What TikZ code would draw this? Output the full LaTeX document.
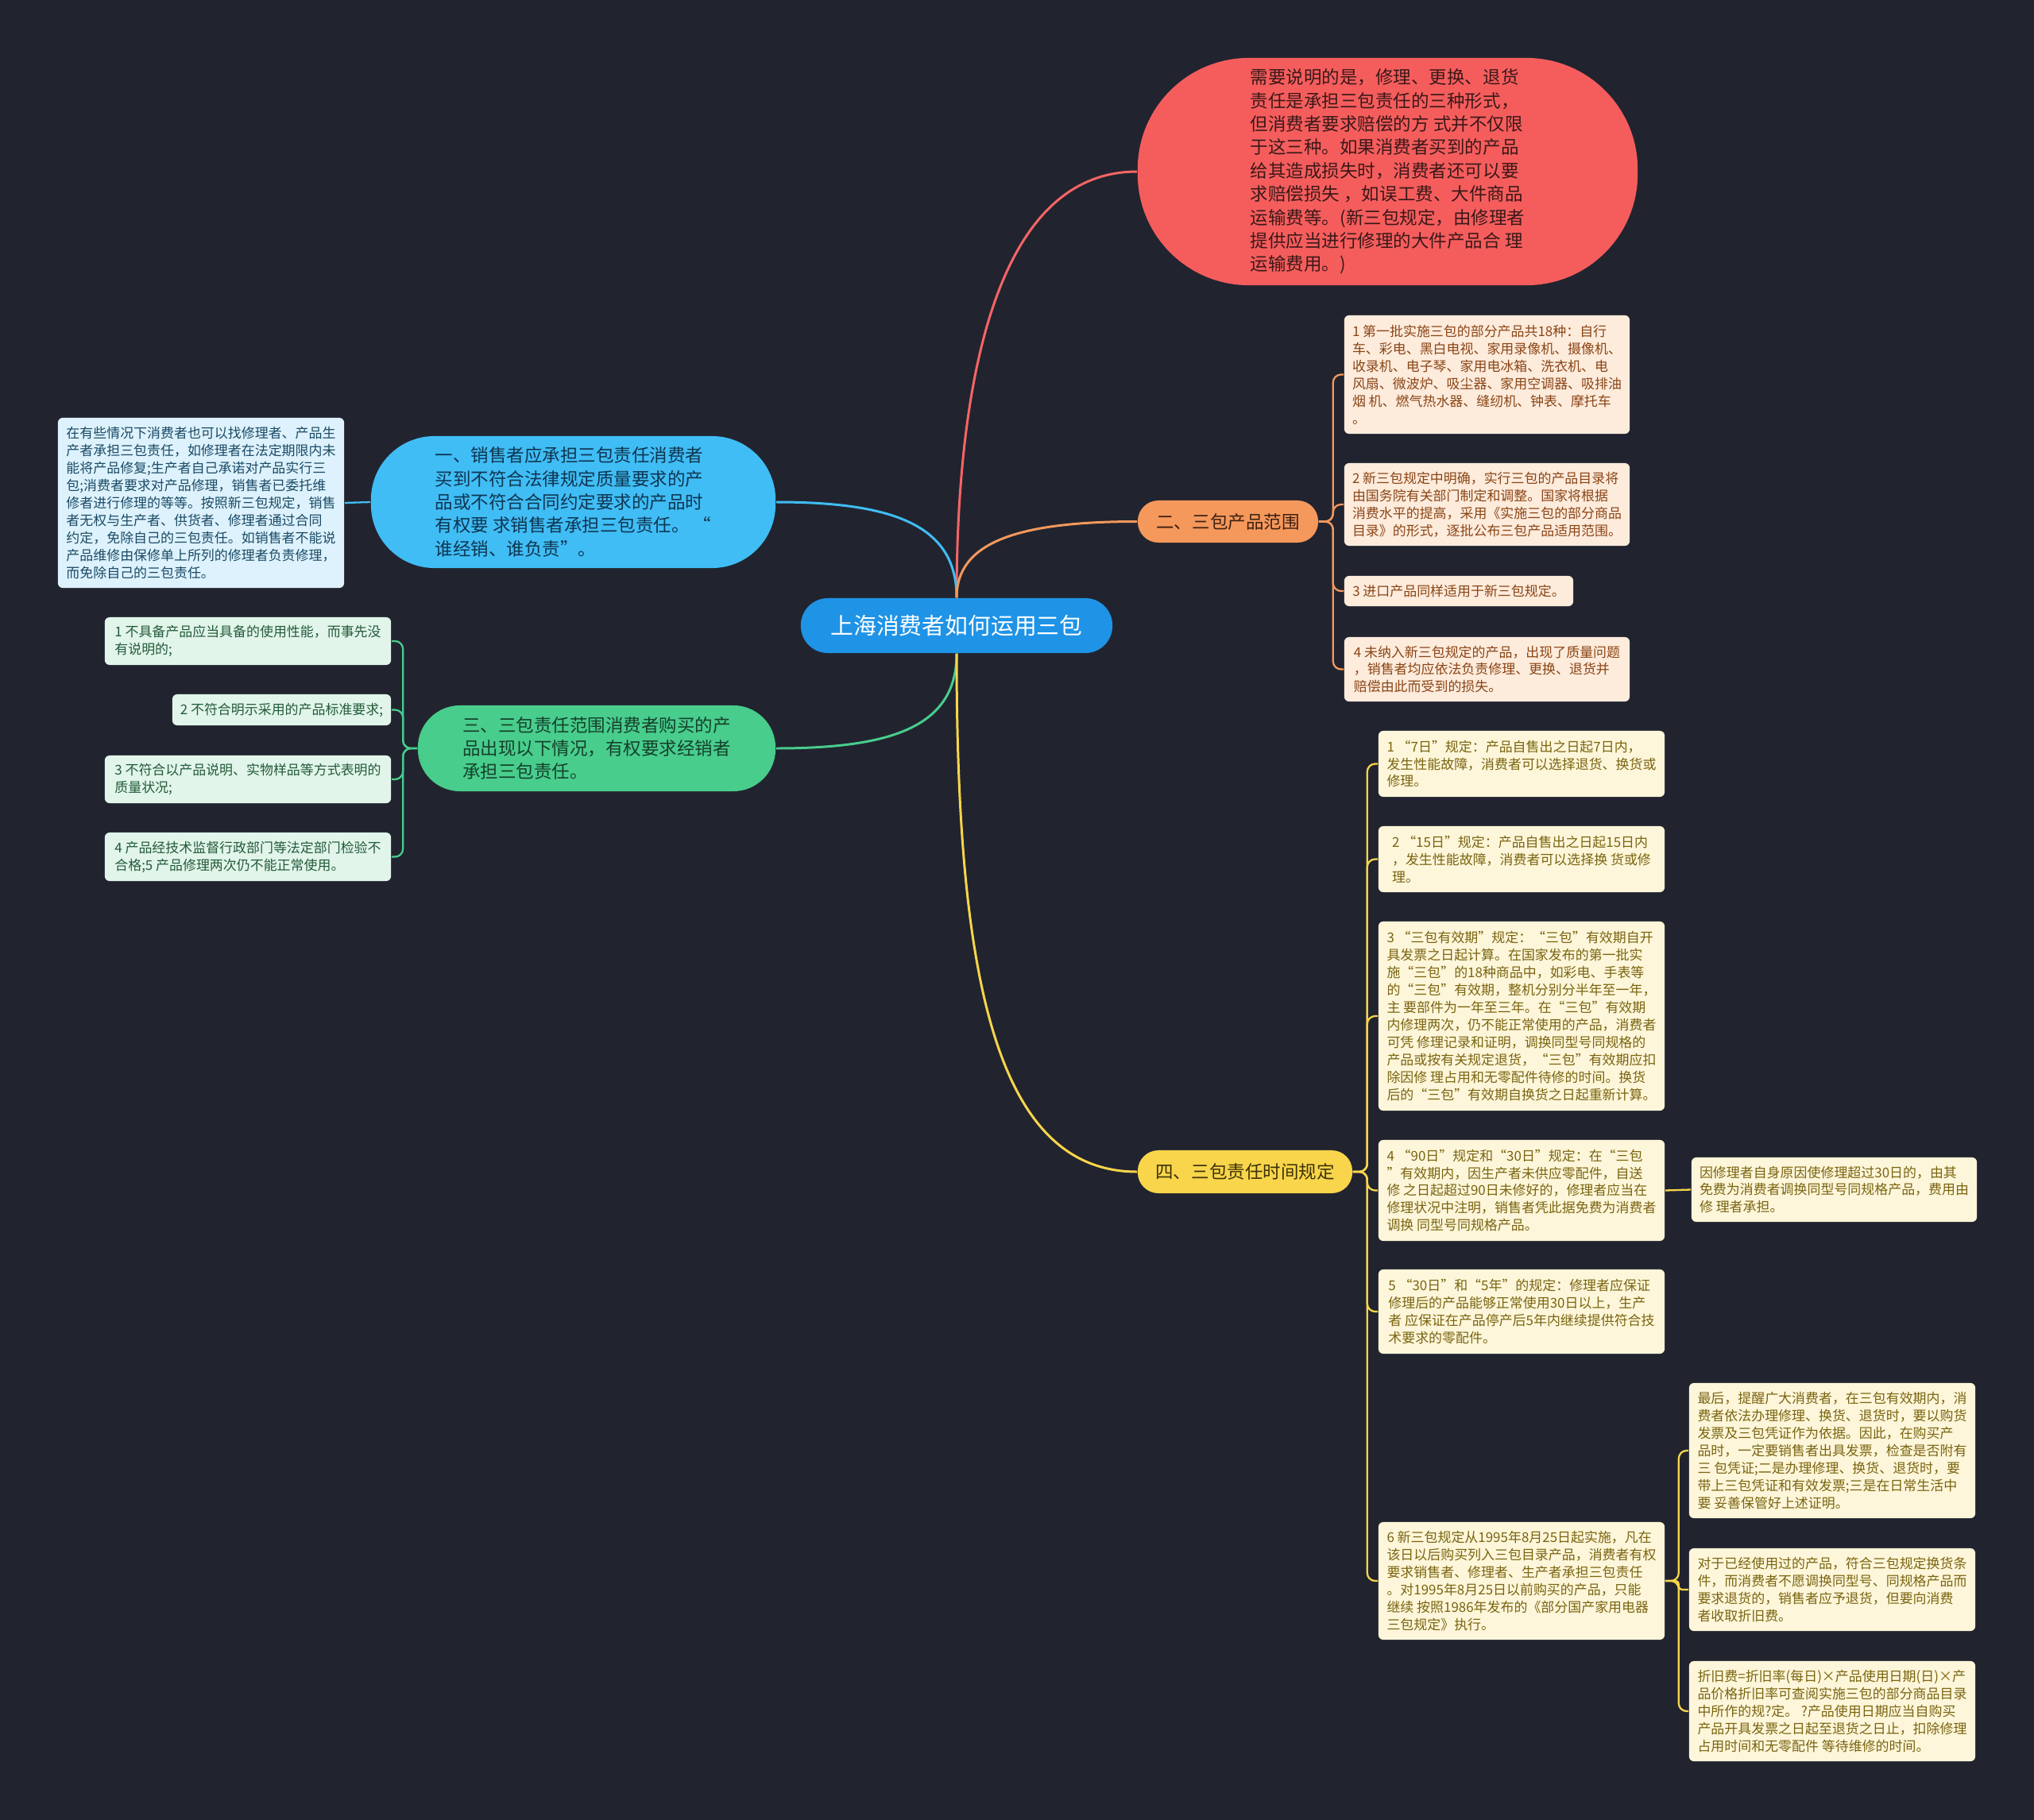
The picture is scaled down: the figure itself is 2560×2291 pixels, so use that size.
\documentclass[tikz,border=0pt]{standalone}
\usepackage{fontspec}
\setmainfont{Noto Sans CJK SC}
\usetikzlibrary{positioning}

\definecolor{bgc}{HTML}{21242F}
\definecolor{hubfill}{HTML}{1F93E6}
\definecolor{redfill}{HTML}{F55D5D}
\definecolor{redtext}{HTML}{3B1818}
\definecolor{bluefill}{HTML}{40BDF5}
\definecolor{bluetext}{HTML}{0F3550}
\definecolor{greenfill}{HTML}{48CD8C}
\definecolor{greentext}{HTML}{15402A}
\definecolor{orangefill}{HTML}{F5985C}
\definecolor{orangetext}{HTML}{3D2010}
\definecolor{yellowfill}{HTML}{F8D54A}
\definecolor{yellowtext}{HTML}{3D3208}
\definecolor{gleaf}{HTML}{E1F5EA}
\definecolor{gleaftext}{HTML}{245A3A}
\definecolor{bleaf}{HTML}{DDF2FC}
\definecolor{bleaftext}{HTML}{1A4A66}
\definecolor{oleaf}{HTML}{FDEBDC}
\definecolor{oleaftext}{HTML}{8A4515}
\definecolor{yleaf}{HTML}{FDF6DA}
\definecolor{yleaftext}{HTML}{7A6410}

\begin{document}
\begin{tikzpicture}[x=0.01cm, y=-0.01cm,
	hub/.style ={fill=hubfill, text=white, rounded corners=0.34cm, minimum width=3.92cm, minimum height=0.69cm, inner sep=0pt, font=\fontsize{8.2}{10}\selectfont},
	topic/.style ={align=left, inner sep=0pt, font=\fontsize{6.4}{8.35}\selectfont},
	leaf/.style ={align=left, inner sep=0pt, rounded corners=0.06cm, minimum width=3.6cm, font=\fontsize{4.82}{6.24}\selectfont},
	gleafbox/.style ={leaf, fill=gleaf, text=gleaftext},
	oleafbox/.style ={leaf, fill=oleaf, text=oleaftext},
	yleafbox/.style ={leaf, fill=yleaf, text=yleaftext},
	link/.style ={line width=0.85pt},
	twig/.style ={line width=0.65pt, rounded corners=0.1cm}]
	\path[use as bounding box, fill=bgc] (0,0) rectangle (2560,2291);

	\node[hub] (hub) at (1204,787.5) {上海消费者如何运用三包};

	\node[topic, fill=redfill, text=redtext, rounded corners=1.4cm, minimum width=6.29cm, minimum height=2.86cm] (remark) at (1746.5,216) {需要说明的是，修理、更换、退货\\责任是承担三包责任的三种形式，\\但消费者要求赔偿的方 式并不仅限\\于这三种。如果消费者买到的产品\\给其造成损失时，消费者还可以要\\求赔偿损失 ，如误工费、大件商品\\运输费等。(新三包规定，由修理者\\提供应当进行修理的大件产品合 理\\运输费用。)};

	\node[topic, fill=bluefill, text=bluetext, rounded corners=0.8cm, minimum width=5.09cm, minimum height=1.66cm] (sell) at (721.5,632) {一、销售者应承担三包责任消费者\\买到不符合法律规定质量要求的产\\品或不符合合同约定要求的产品时\\有权要 求销售者承担三包责任。 “\\谁经销、谁负责”。};
	\node[leaf, fill=bleaf, text=bleaftext, minimum height=2.14cm] (sell-x) at (253,633) {在有些情况下消费者也可以找修理者、产品生\\产者承担三包责任，如修理者在法定期限内未\\ 能将产品修复;生产者自己承诺对产品实行三\\包;消费者要求对产品修理，销售者已委托维\\修者进行修理的等等。按照新三包规定，销售\\者无权与生产者、供货者、修理者通过合同\\约定，免除自己的三包责任。如销售者不能说\\产品维修由保修单上所列的修理者负责修理，\\ 而免除自己的三包责任。};

	\node[topic, fill=greenfill, text=greentext, rounded corners=0.53cm, minimum width=4.5cm, minimum height=1.08cm] (scope) at (751,942) {三、三包责任范围消费者购买的产\\品出现以下情况，有权要求经销者\\承担三包责任。};
	\node[gleafbox, minimum height=0.6cm] (scope-1) at (312,807) {1 不具备产品应当具备的使用性能，而事先没\\有说明的;};
	\node[gleafbox, minimum width=2.75cm, minimum height=0.39cm] (scope-2) at (354.5,893.5) {2 不符合明示采用的产品标准要求;};
	\node[gleafbox, minimum height=0.6cm] (scope-3) at (312,981) {3 不符合以产品说明、实物样品等方式表明的\\质量状况;};
	\node[gleafbox, minimum height=0.61cm] (scope-4) at (312,1078.5) {4 产品经技术监督行政部门等法定部门检验不\\合格;5 产品修理两次仍不能正常使用。};

	\node[topic, fill=orangefill, text=orangetext, rounded corners=0.26cm, minimum width=2.27cm, minimum height=0.53cm] (range) at (1545.5,656.5) {二、三包产品范围};
	\node[oleafbox, minimum width=3.59cm, minimum height=1.49cm] (range-1) at (1871.5,471.5) {1 第一批实施三包的部分产品共18种：自行\\车、彩电、黑白电视、家用录像机、摄像机、\\ 收录机、电子琴、家用电冰箱、洗衣机、电\\风扇、微波炉、吸尘器、家用空调器、吸排油\\烟 机、燃气热水器、缝纫机、钟表、摩托车\\。};
	\node[oleafbox, minimum width=3.59cm, minimum height=1.04cm] (range-2) at (1871.5,635) {2 新三包规定中明确，实行三包的产品目录将\\由国务院有关部门制定和调整。国家将根据\\消费水平的提高，采用《实施三包的部分商品\\目录》的形式，逐批公布三包产品适用范围。};
	\node[oleafbox, minimum width=2.88cm, minimum height=0.38cm] (range-3) at (1836,744) {3 进口产品同样适用于新三包规定。};
	\node[oleafbox, minimum width=3.59cm, minimum height=0.81cm] (range-4) at (1871.5,842.5) {4 未纳入新三包规定的产品，出现了质量问题\\，销售者均应依法负责修理、更换、退货并\\赔偿由此而受到的损失。};

	\node[topic, fill=yellowfill, text=yellowtext, rounded corners=0.26cm, minimum width=2.7cm, minimum height=0.54cm] (period) at (1567,1475) {四、三包责任时间规定};
	\node[yleafbox, minimum height=0.83cm] (period-1) at (1915,961.5) {1 “7日”规定：产品自售出之日起7日内，\\发生性能故障，消费者可以选择退货、换货或\\ 修理。};
	\node[yleafbox, minimum height=0.83cm] (period-2) at (1915,1081.5) {2 “15日”规定：产品自售出之日起15日内\\，发生性能故障，消费者可以选择换 货或修\\理。};
	\node[yleafbox, minimum height=2.38cm] (period-3) at (1915,1279) {3 “三包有效期”规定：“三包”有效期自开\\具发票之日起计算。在国家发布的第一批实\\施“三包”的18种商品中，如彩电、手表等\\的“三包”有效期，整机分别分半年至一年，\\主 要部件为一年至三年。在“三包”有效期\\内修理两次，仍不能正常使用的产品，消费者\\可凭 修理记录和证明，调换同型号同规格的\\产品或按有关规定退货，“三包”有效期应扣\\除因修 理占用和无零配件待修的时间。换货\\后的“三包”有效期自换货之日起重新计算。};
	\node[yleafbox, minimum height=1.27cm] (period-4) at (1915,1498.5) {4 “90日”规定和“30日”规定：在“三包\\”有效期内，因生产者未供应零配件，自送\\修 之日起超过90日未修好的，修理者应当在\\修理状况中注明，销售者凭此据免费为消费者\\调换 同型号同规格产品。};
	\node[yleafbox, minimum height=1.06cm] (period-5) at (1915,1651) {5 “30日”和“5年”的规定：修理者应保证\\修理后的产品能够正常使用30日以上，生产\\者 应保证在产品停产后5年内继续提供符合技\\术要求的零配件。};
	\node[yleafbox, minimum height=1.48cm] (period-6) at (1915,1990) {6 新三包规定从1995年8月25日起实施，凡在\\该日以后购买列入三包目录产品，消费者有权\\ 要求销售者、修理者、生产者承担三包责任\\。对1995年8月25日以前购买的产品，只能\\继续 按照1986年发布的《部分国产家用电器\\三包规定》执行。};
	\node[yleafbox, minimum width=3.59cm, minimum height=0.81cm] (period-4a) at (2308.5,1497.5) {因修理者自身原因使修理超过30日的，由其\\免费为消费者调换同型号同规格产品，费用由\\修 理者承担。};
	\node[yleafbox, minimum height=1.7cm] (period-6a) at (2306,1826) {最后，提醒广大消费者，在三包有效期内，消\\费者依法办理修理、换货、退货时，要以购货\\ 发票及三包凭证作为依据。因此，在购买产\\品时，一定要销售者出具发票，检查是否附有\\三 包凭证;二是办理修理、换货、退货时，要\\带上三包凭证和有效发票;三是在日常生活中\\要 妥善保管好上述证明。};
	\node[yleafbox, minimum height=1.04cm] (period-6b) at (2306,2001) {对于已经使用过的产品，符合三包规定换货条\\件，而消费者不愿调换同型号、同规格产品而\\ 要求退货的，销售者应予退货，但要向消费\\者收取折旧费。};
	\node[yleafbox, minimum height=1.26cm] (period-6c) at (2306,2154) {折旧费=折旧率(每日)×产品使用日期(日)×产\\品价格折旧率可查阅实施三包的部分商品目录\\中所作的规?定。 ?产品使用日期应当自购买\\产品开具发票之日起至退货之日止，扣除修理\\占用时间和无零配件 等待维修的时间。};

	\draw[link, redfill!95!white] (hub.north) .. controls +(0,-200) and +(-200,0) .. (remark.west);
	\draw[link, bluefill] (hub.north) .. controls +(0,-90) and +(150,0) .. (sell.east);
	\draw[link, orangefill] (hub.north) .. controls +(0,-70) and +(-150,0) .. (range.west);
	\draw[link, greenfill] (hub.south) .. controls +(0,90) and +(150,0) .. (scope.east);
	\draw[link, yellowfill] (hub.south) .. controls +(0,400) and +(-180,0) .. (period.west);

	\draw[twig, bluefill] (sell.west) -- (sell-x.east);
	\foreach \k in {1,...,4}
		\draw[twig, greenfill] (scope.west) -- ++(-18,0) |- (scope-\k.east);
	\foreach \k in {1,...,4}
		\draw[twig, orangefill] (range.east) -- ++(18,0) |- (range-\k.west);
	\foreach \k in {1,...,6}
		\draw[twig, yellowfill] (period.east) -- ++(18,0) |- (period-\k.west);
	\draw[twig, yellowfill] (period-4.east) -- (period-4a.west);
	\draw[twig, yellowfill] (period-6.east) -- ++(17,0) |- (period-6a.west);
	\draw[twig, yellowfill, rounded corners=0.04cm] (period-6.east) -- ++(17,0) |- (period-6b.west);
	\draw[twig, yellowfill] (period-6.east) -- ++(17,0) |- (period-6c.west);
\end{tikzpicture}
\end{document}
